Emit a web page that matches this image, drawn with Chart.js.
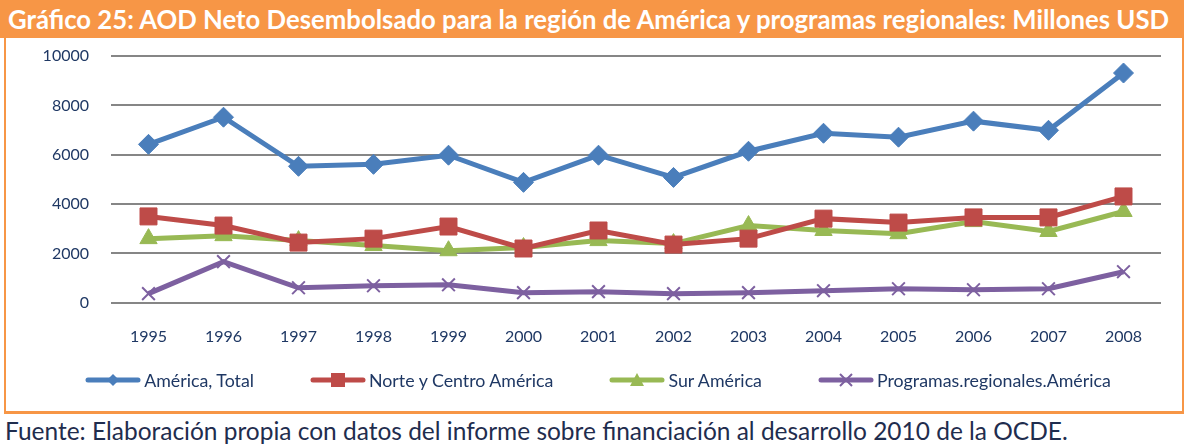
<!DOCTYPE html>
<html>
<head>
<meta charset="utf-8">
<script src="https://cdn.jsdelivr.net/npm/chart.js@4.4.1/dist/chart.umd.min.js"></script>
<style>
  html, body { margin: 0; padding: 0; background: #fff; }
  body { width: 1184px; height: 447px; position: relative; overflow: hidden; font-family: Lato, "Open Sans", sans-serif; }
  #title { position: absolute; left: 0; top: 0; width: 1184px; height: 38px; background: #f79646; }
  #titleText { position: absolute; left: 8px; top: 0; color: #fff; font-weight: bold; font-size: 20px; line-height: 38px; white-space: nowrap; }
  #box { position: absolute; left: 4px; top: 38px; width: 1176px; height: 373px; border-left: 2px solid #f79646; border-right: 2px solid #f79646;
         border-bottom: 3px solid #f79646; box-sizing: content-box; }
  #wrap { position: absolute; left: 0; top: 0; width: 1176px; height: 332px; }
  #legend { position: absolute; left: 0; top: 330px; width: 1176px; height: 24px; padding-left: 8px; box-sizing: border-box;
            display: flex; justify-content: center; align-items: center; gap: 56px; }
  .li { display: flex; align-items: center; color: #1f3864; font-size: 17.8px; white-space: nowrap; }
  .li canvas { margin-right: 3px; }
  #foot { position: absolute; left: 5px; top: 416px; font-size: 21px; color: #1f2d4e; white-space: nowrap; }
</style>
</head>
<body>
<div id="title"><span id="titleText">Gráfico 25: AOD Neto Desembolsado para la región de América y programas regionales: Millones USD</span></div>
<div id="box"><div id="wrap"><canvas id="c"></canvas></div><div id="legend"></div></div>
<div id="foot">Fuente: Elaboración propia con datos del informe sobre financiación al desarrollo 2010 de la OCDE.</div>
<script>
const years = ['1995','1996','1997','1998','1999','2000','2001','2002','2003','2004','2005','2006','2007','2008'];
const americaTotal = [6420, 7520, 5530, 5610, 5980, 4880, 5980, 5080, 6140, 6870, 6710, 7360, 6990, 9310];
const norteCentro = [3500, 3130, 2440, 2600, 3090, 2200, 2930, 2360, 2600, 3410, 3250, 3460, 3460, 4310];
const surAmerica = [2600, 2720, 2520, 2320, 2110, 2240, 2520, 2400, 3130, 2930, 2800, 3290, 2890, 3700];
const programasRegionales = [370, 1670, 610, 690, 730, 410, 450, 370, 410, 490, 570, 530, 570, 1260];
const seriesNames = ['América, Total', 'Norte y Centro América', 'Sur América', 'Programas.regionales.América'];
const yTicks = [0, 2000, 4000, 6000, 8000, 10000];

// fit text widths to reference
function fitWidth(el, target) {
  const w = el.getBoundingClientRect().width;
  const fs = parseFloat(getComputedStyle(el).fontSize);
  el.style.fontSize = (fs * target / w) + 'px';
}
fitWidth(document.getElementById('titleText'), 1162);
fitWidth(document.getElementById('foot'), 1063);

const colors = ['#4a7ebb', '#be4b48', '#98b954', '#7d60a0'];
const styles = ['rectRot', 'rect', 'triangle', 'crossRot'];
const radii = [10, 12, 10, 9];

function legendImg(color, style) {
  const cv = document.createElement('canvas');
  cv.width = 56; cv.height = 20;
  const g = cv.getContext('2d');
  g.strokeStyle = color; g.lineWidth = 5; g.lineCap = 'round';
  g.beginPath(); g.moveTo(3, 10); g.lineTo(53, 10); g.stroke();
  g.fillStyle = color;
  const cx = 28, cy = 10;
  if (style === 'rectRot') {
    g.beginPath(); g.moveTo(cx, cy - 6); g.lineTo(cx + 6, cy); g.lineTo(cx, cy + 6); g.lineTo(cx - 6, cy); g.closePath(); g.fill();
  } else if (style === 'rect') {
    g.fillRect(cx - 7, cy - 7, 14, 14);
  } else if (style === 'triangle') {
    g.beginPath(); g.moveTo(cx, cy - 7); g.lineTo(cx + 7, cy + 6); g.lineTo(cx - 7, cy + 6); g.closePath(); g.fill();
  } else {
    g.lineWidth = 2; g.lineCap = 'butt';
    g.beginPath(); g.moveTo(cx - 6, cy - 6); g.lineTo(cx + 6, cy + 6); g.moveTo(cx + 6, cy - 6); g.lineTo(cx - 6, cy + 6); g.stroke();
  }
  return cv;
}

const dataArrays = [americaTotal, norteCentro, surAmerica, programasRegionales];
const datasets = dataArrays.map((d, i) => ({
  label: seriesNames[i],
  data: d,
  borderColor: colors[i],
  backgroundColor: colors[i],
  borderWidth: 5,
  pointStyle: styles[i],
  pointRadius: radii[i],
  pointHoverRadius: radii[i],
  pointBorderWidth: styles[i] === 'crossRot' ? 2 : 1,
  pointBorderColor: colors[i],
  pointBackgroundColor: colors[i],
  tension: 0,
  fill: false,
  clip: false
}));

const legendEl = document.getElementById('legend');
datasets.forEach((ds, i) => {
  const item = document.createElement('div');
  item.className = 'li';
  item.appendChild(legendImg(ds.borderColor, ds.pointStyle));
  const sp = document.createElement('span');
  sp.textContent = ds.label;
  item.appendChild(sp);
  legendEl.appendChild(item);
});

const fontFam = 'Lato, "Open Sans", sans-serif';
new Chart(document.getElementById('c'), {
  type: 'line',
  data: { labels: years, datasets: datasets },
  options: {
    responsive: true,
    maintainAspectRatio: false,
    animation: false,
    layout: { autoPadding: false, padding: { top: 18, right: 21, left: 0, bottom: 0 } },
    plugins: { tooltip: { enabled: false }, legend: { display: false } },
    scales: {
      x: {
        offset: true,
        grid: { display: false, drawTicks: false },
        border: { display: false },
        ticks: { color: '#1f3864', padding: 24, maxRotation: 0, font: { family: fontFam, size: 16 } }
      },
      y: {
        min: 0, max: 10000,
        afterBuildTicks: (axis) => { axis.ticks = yTicks.map(v => ({ value: v })); },
        afterFit: (axis) => { axis.width = 105; axis.paddingTop = 0; axis.paddingBottom = 0; },
        grid: { color: '#868686', lineWidth: 2, drawTicks: false },
        border: { display: false },
        ticks: { color: '#1f3864', padding: 22, font: { family: fontFam, size: 16 }, callback: (v) => String(v) }
      }
    }
  }
});
</script>
</body>
</html>
